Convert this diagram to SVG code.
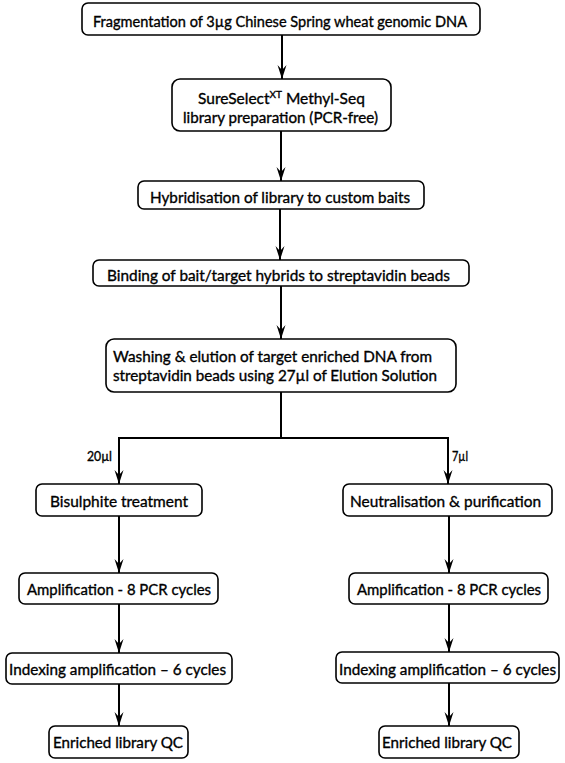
<svg xmlns="http://www.w3.org/2000/svg" width="565" height="763" viewBox="0 0 565 763">
<defs>
<marker id="ah" markerUnits="userSpaceOnUse" markerWidth="16" markerHeight="12" viewBox="-15 -6 16 12" refX="0" refY="0" orient="auto">
<path d="M0,0 L-14,-4.5 L-9,0 L-14,4.5 Z" fill="#000"/>
</marker>
</defs>
<style>
.box{fill:#fff;stroke:#000;stroke-width:1.6}
.t{font-family:Lato,"Open Sans","Liberation Sans",sans-serif;font-size:15.5px;fill:#000;stroke:#000;stroke-width:0.35}
.s{font-size:13px}
.con{fill:none;stroke:#000;stroke-width:2}
</style>
<rect width="565" height="763" fill="#fff"/>
<g id="connectors">
<line class="con" x1="282" y1="35" x2="282" y2="79" marker-end="url(#ah)"/>
<line class="con" x1="281" y1="131" x2="281" y2="181" marker-end="url(#ah)"/>
<line class="con" x1="280" y1="209" x2="280" y2="260" marker-end="url(#ah)"/>
<line class="con" x1="281" y1="286" x2="281" y2="339" marker-end="url(#ah)"/>
<polyline class="con" points="281,392 281,438 119,438 119,484" marker-end="url(#ah)"/>
<polyline class="con" points="281,438 448,438 448,484" marker-end="url(#ah)"/>
<line class="con" x1="119" y1="516" x2="119" y2="573" marker-end="url(#ah)"/>
<line class="con" x1="119" y1="604" x2="119" y2="653" marker-end="url(#ah)"/>
<line class="con" x1="119" y1="684" x2="119" y2="726" marker-end="url(#ah)"/>
<line class="con" x1="449" y1="516" x2="449" y2="573" marker-end="url(#ah)"/>
<line class="con" x1="449" y1="604" x2="449" y2="652" marker-end="url(#ah)"/>
<line class="con" x1="449" y1="683" x2="449" y2="726" marker-end="url(#ah)"/>
<text class="t s" x="87" y="461" textLength="25" lengthAdjust="spacingAndGlyphs">20µl</text>
<text class="t s" x="452" y="461" textLength="16" lengthAdjust="spacingAndGlyphs">7µl</text>
</g>
<g id="n1">
<rect class="box" x="82" y="3" width="398" height="32" rx="6"/>
<text class="t" x="93" y="27" textLength="374" lengthAdjust="spacingAndGlyphs">Fragmentation of 3µg Chinese Spring wheat genomic DNA</text>
</g>
<g id="n2">
<rect class="box" x="172" y="79" width="219" height="52" rx="8"/>
<text class="t" x="198" y="104">SureSelect<tspan font-size="10" dy="-6">XT</tspan><tspan dy="6"> Methyl-Seq</tspan></text>
<text class="t" x="183" y="123" textLength="195" lengthAdjust="spacingAndGlyphs">library preparation (PCR-free)</text>
</g>
<g id="n3">
<rect class="box" x="138" y="181" width="286" height="28" rx="6"/>
<text class="t" x="150" y="203" textLength="260" lengthAdjust="spacingAndGlyphs">Hybridisation of library to custom baits</text>
</g>
<g id="n4">
<rect class="box" x="93" y="260" width="376" height="26" rx="6"/>
<text class="t" x="107" y="281" textLength="343" lengthAdjust="spacingAndGlyphs">Binding of bait/target hybrids to streptavidin beads</text>
</g>
<g id="n5">
<rect class="box" x="106" y="339" width="350" height="53" rx="8"/>
<text class="t" x="113" y="362" textLength="319" lengthAdjust="spacingAndGlyphs">Washing &amp; elution of target enriched DNA from</text>
<text class="t" x="113" y="381" textLength="324" lengthAdjust="spacingAndGlyphs">streptavidin beads using 27µl of Elution Solution</text>
</g>
<g id="n6">
<rect class="box" x="36" y="484" width="166" height="32" rx="6"/>
<text class="t" x="50" y="507" textLength="138" lengthAdjust="spacingAndGlyphs">Bisulphite treatment</text>
</g>
<g id="n7">
<rect class="box" x="343" y="484" width="209" height="32" rx="6"/>
<text class="t" x="350" y="507" textLength="191" lengthAdjust="spacingAndGlyphs">Neutralisation &amp; purification</text>
</g>
<g id="n8">
<rect class="box" x="19" y="573" width="199" height="31" rx="6"/>
<text class="t" x="27" y="595" textLength="184" lengthAdjust="spacingAndGlyphs">Amplification - 8 PCR cycles</text>
</g>
<g id="n9">
<rect class="box" x="349" y="573" width="199" height="31" rx="6"/>
<text class="t" x="357" y="595" textLength="184" lengthAdjust="spacingAndGlyphs">Amplification - 8 PCR cycles</text>
</g>
<g id="n10">
<rect class="box" x="6" y="653" width="226" height="31" rx="6"/>
<text class="t" x="9" y="675" textLength="217" lengthAdjust="spacingAndGlyphs">Indexing amplification – 6 cycles</text>
</g>
<g id="n11">
<rect class="box" x="336" y="652" width="223" height="31" rx="6"/>
<text class="t" x="339" y="675" textLength="217" lengthAdjust="spacingAndGlyphs">Indexing amplification – 6 cycles</text>
</g>
<g id="n12">
<rect class="box" x="49" y="726" width="139" height="32" rx="6"/>
<text class="t" x="53" y="748" textLength="130" lengthAdjust="spacingAndGlyphs">Enriched library QC</text>
</g>
<g id="n13">
<rect class="box" x="379" y="726" width="140" height="32" rx="6"/>
<text class="t" x="382" y="748" textLength="130" lengthAdjust="spacingAndGlyphs">Enriched library QC</text>
</g>
</svg>
